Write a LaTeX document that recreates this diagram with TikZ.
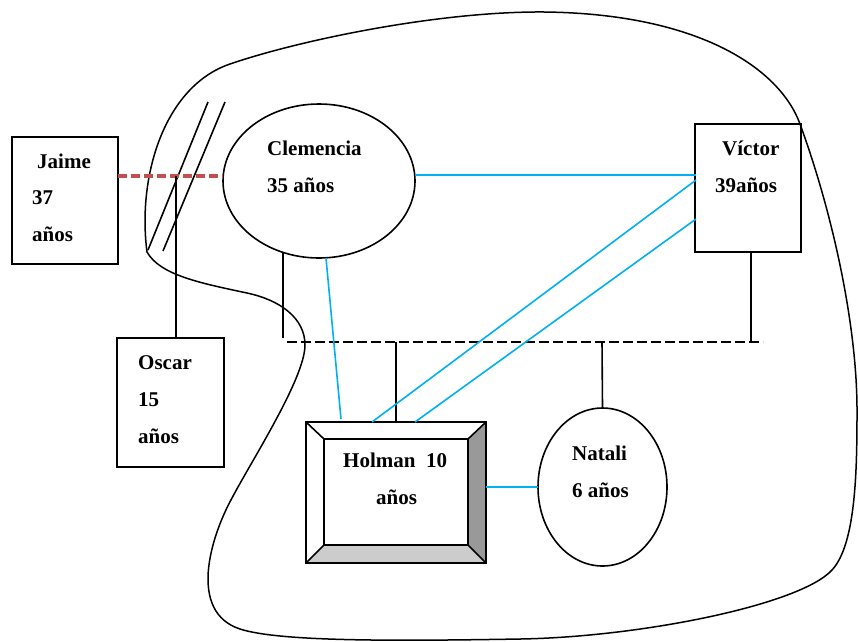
\documentclass[tikz,border=0pt]{standalone}
\usepackage{fontspec}
\setmainfont{Liberation Serif}
\usetikzlibrary{shapes.geometric}
\definecolor{lblue}{RGB}{0,176,240}
\definecolor{dred}{RGB}{192,80,77}
\begin{document}
\begin{tikzpicture}[x=1pt,y=-1pt,
  lbl/.style={anchor=base west,inner sep=0pt,font=\fontsize{21}{25}\selectfont\bfseries},
  persbox/.style={draw,line width=1.6pt,inner sep=0pt},
  persell/.style={draw,ellipse,line width=1.6pt,inner sep=0pt},
  blk/.style={line width=1.6pt},
  blu/.style={lblue,line width=1.6pt},
  rel/.style={line width=2.6pt,dash pattern=on 10pt off 4pt}
]
\useasboundingbox (0,0) rectangle (858,641);
% enclosing curve
\draw[line width=1.5pt,line join=round]
  (147,252) .. controls (160,275) and (200,283) .. (247,293)
  .. controls (280,300) and (305,318) .. (305,345)
  .. controls (305,378) and (252,460) .. (232,498)
  .. controls (210,538) and (188,612) .. (240,629)
  .. controls (280,642) and (400,641) .. (520,639)
  .. controls (640,637) and (800,605) .. (832,570)
  .. controls (856,544) and (857,470) .. (857,410)
  .. controls (857,330) and (835,220) .. (800,124)
  .. controls (780,69) and (700,14) .. (545,12)
  .. controls (440,11) and (300,40) .. (230,64)
  .. controls (165,86) and (137,175) .. (147,252) -- cycle;
% boxes
\node[persbox,minimum width=106pt,minimum height=127pt] (jaime) at (65,200.5) {};
\node[persbox,minimum width=106pt,minimum height=128pt] (victor) at (748,188) {};
\node[persbox,minimum width=107pt,minimum height=129pt] (oscar) at (170.5,402.5) {};
\node[persell,minimum width=192pt,minimum height=154pt] (clem) at (319,181) {};
\node[persell,minimum width=129pt,minimum height=158pt] (natali) at (602.5,487) {};
% Holman bevel box
\fill[black!20] (306,563) -- (486,563) -- (468,545) -- (324,545) -- cycle;
\fill[black!40] (486,422) -- (486,563) -- (468,545) -- (468,439) -- cycle;
\draw[blk] (324,439) rectangle (468,545);
\draw[blk] (306,422) -- (324,439) (486,422) -- (468,439) (306,563) -- (324,545) (486,563) -- (468,545);
\node[persbox,minimum width=180pt,minimum height=141pt] (holman) at (396,492.5) {};
% texts
\node[lbl] (tj1) at (37,168) {Jaime};
\node[lbl] (tj2) at (32,204) {37};
\node[lbl] (tj3) at (32,241) {años};
\node[lbl] (tc1) at (267,155) {Clemencia};
\node[lbl] (tc2) at (267,192) {35 años};
\node[lbl] (tv1) at (722,155) {Víctor};
\node[lbl] (tv2) at (715,192) {39años};
\node[lbl] (to1) at (138,369) {Oscar};
\node[lbl] (to2) at (138,406) {15};
\node[lbl] (to3) at (138,443) {años};
\node[lbl] (th1) at (343,467) {Holman\ \ 10};
\node[lbl] (th2) at (376,504) {años};
\node[lbl] (tn1) at (572,460) {Natali};
\node[lbl] (tn2) at (572,497) {6 años};
% coordinates
\coordinate (jr) at (118,176);
\coordinate (cl) at (223,176);
\coordinate (osc) at (176,176);
\coordinate (d1) at (287,342);
\coordinate (d2) at (763,342);
\coordinate (cb) at (283,252);
\coordinate (cb2) at (283,338);
\coordinate (vb) at (751,252);
\coordinate (vb2) at (751,342);
\coordinate (hb2) at (396,342);
\coordinate (nb2) at (602,342);
\coordinate (cr) at (415,175);
\coordinate (vl1) at (696,175);
\coordinate (vl2) at (696,180);
\coordinate (vl3) at (696,219);
\coordinate (ht1) at (372,422);
\coordinate (ht2) at (415,422);
\coordinate (cbb) at (326,258);
\coordinate (ht0) at (341,419);
\coordinate (hr) at (486,487);
\coordinate (nl) at (538,487);
% slashes
\draw[blk] (208,102) -- (148,250);
\draw[blk] (225,102) -- (163,251);
% connectors
\draw[dred,line width=3.5pt,dash pattern=on 9pt off 4pt] (jr) -- (cl);
\draw[blk] (osc) -- (osc |- oscar.north);
\draw[rel] (d1) -- (d2);
\draw[blk] (cb) -- (cb2);
\draw[blk] (vb) -- (vb2);
\draw[blk] (hb2) -- (holman.north);
\draw[blk] (nb2) -- (natali.north);
\draw[blu] (cr) -- (vl1);
\draw[blu] (vl2) -- (ht1);
\draw[blu] (vl3) -- (ht2);
\draw[blu] (cbb) -- (ht0);
\draw[blu] (hr) -- (nl);
\end{tikzpicture}
\end{document}
